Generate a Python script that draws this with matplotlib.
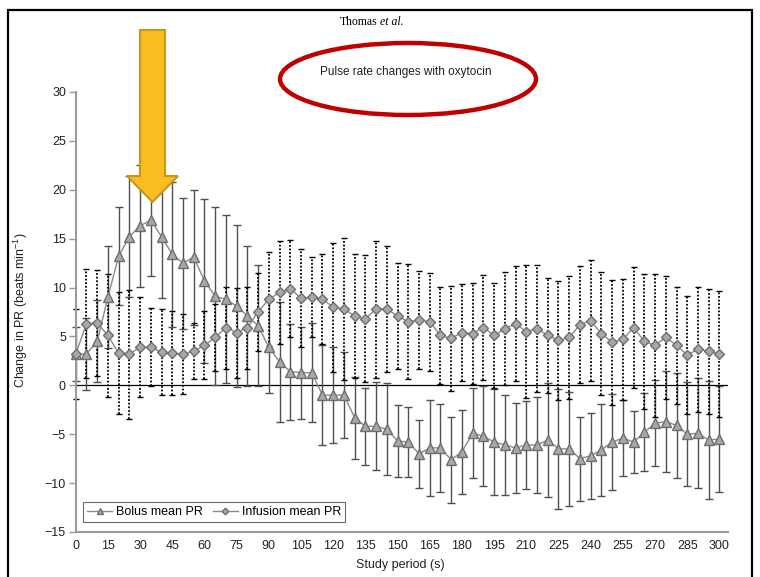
import numpy as np
import matplotlib
matplotlib.use('Agg')
import matplotlib.pyplot as plt
from matplotlib.patches import Ellipse, Polygon, Rectangle

plt.rcParams['font.family'] = ['Liberation Sans', 'DejaVu Sans']
plt.rcParams['mathtext.default'] = 'regular'

# study time points (s)
times = np.arange(0, 305, 5)

bolus_mean = [3.2, 3.2, 4.5, 9.0, 13.2, 15.2, 16.3, 16.9, 15.2, 13.4,
              12.5, 13.1, 10.7, 9.1, 8.8, 8.1, 7.1, 6.1, 3.9, 2.4,
              1.4, 1.3, 1.3, -1.0, -1.0, -1.0, -3.3, -4.2, -4.2, -4.5,
              -5.7, -5.8, -7.0, -6.4, -6.4, -7.6, -6.8, -4.9, -5.2, -5.8,
              -6.1, -6.4, -6.1, -6.1, -5.6, -6.5, -6.5, -7.5, -7.2, -6.6,
              -5.8, -5.4, -5.8, -4.8, -3.9, -3.7, -4.1, -5.0, -4.9, -5.6,
              -5.5]
bolus_err = [2.8, 3.65, 4.2, 5.2, 5.0, 6.2, 6.2, 5.7, 6.3, 7.4,
             6.7, 6.9, 8.4, 9.1, 8.6, 8.3, 7.2, 6.2, 4.7, 6.1,
             4.9, 4.7, 5.1, 5.1, 4.9, 4.4, 4.2, 3.9, 4.5, 4.7,
             3.7, 3.6, 3.5, 4.9, 4.5, 4.4, 4.3, 4.6, 5.1, 5.4,
             5.1, 4.6, 4.5, 4.9, 5.8, 6.1, 5.8, 4.3, 4.4, 4.7,
             4.9, 3.9, 3.2, 4.0, 4.4, 5.2, 5.4, 5.3, 5.6, 6.0,
             5.4]

infusion_mean = [3.2, 6.3, 6.4, 5.1, 3.3, 3.2, 3.9, 3.9, 3.4, 3.3,
                 3.2, 3.5, 4.1, 4.9, 5.9, 5.4, 5.9, 7.5, 8.8, 9.5,
                 9.9, 8.9, 9.0, 8.8, 8.0, 7.8, 7.1, 6.8, 7.8, 7.8,
                 7.1, 6.5, 6.7, 6.5, 5.1, 4.8, 5.4, 5.3, 5.9, 5.1,
                 5.8, 6.3, 5.5, 5.8, 5.1, 4.6, 4.9, 6.2, 6.6, 5.3,
                 4.4, 4.7, 5.9, 4.5, 4.1, 4.9, 4.1, 3.1, 3.7, 3.5,
                 3.2]
infusion_err = [4.6, 5.55, 5.4, 6.3, 6.2, 6.6, 5.1, 4.0, 4.4, 4.3,
                4.1, 2.9, 3.5, 3.4, 4.2, 4.6, 4.2, 4.0, 4.8, 5.3,
                5.0, 5.0, 4.1, 4.6, 6.6, 7.3, 6.3, 6.5, 7.0, 6.4,
                5.4, 5.9, 5.0, 5.0, 5.0, 5.4, 5.0, 5.2, 5.4, 5.4,
                5.8, 5.9, 6.8, 6.5, 5.9, 6.1, 6.3, 6.0, 6.2, 6.3,
                6.4, 6.2, 6.2, 6.9, 7.3, 6.3, 6.0, 6.0, 6.4, 6.4,
                6.4]

W, H = 760, 577
fig = plt.figure(figsize=(W / 100, H / 100), dpi=100)
ax = fig.add_axes([75.7 / W, 45 / H, 652.3 / W, 440 / H])


def fpos(x, y):
    # pixel (from top-left) -> figure fraction
    return (x / W, 1 - y / H)


# error bars
eb_b = ax.errorbar(times, bolus_mean, yerr=bolus_err, fmt='none',
                   ecolor='#505050', elinewidth=1.0, capsize=3, capthick=1.0,
                   zorder=2)
eb_i = ax.errorbar(times, infusion_mean, yerr=infusion_err, fmt='none',
                   ecolor='black', elinewidth=1.3, capsize=2.5, capthick=1.0,
                   zorder=2)
for c in eb_i[2]:
    c.set_linestyle((0, (1.0, 1.0)))
for eb in (eb_b, eb_i):
    for a in list(eb[1]) + list(eb[2]):
        a.set_clip_on(False)

ax.axhline(0, color='black', lw=0.9, zorder=1)

ax.plot(times, bolus_mean, '-^', color='#8a8a8a', mfc='#a8a8a8', mec='#6e6e6e',
        ms=7, lw=1, label='Bolus mean PR', zorder=4, clip_on=False)
ax.plot(times, infusion_mean, '-D', color='#8a8a8a', mfc='#a8a8a8', mec='#6e6e6e',
        ms=4.8, lw=1, label='Infusion mean PR', zorder=4, clip_on=False)

ax.set_xlim(0, 304)
ax.set_ylim(-15, 30)
ax.set_xticks(range(0, 301, 15))
ax.set_yticks(range(-15, 31, 5))
ax.set_yticklabels(['\u221215', '\u221210', '\u22125', '0', '5', '10', '15', '20', '25', '30'])
ax.tick_params(axis='x', length=0, pad=6, labelsize=9, labelcolor='#222222')
ax.tick_params(axis='y', length=5, width=1, color='#9a9a9a', labelsize=9,
               labelcolor='#222222', pad=2)

for s in ('top', 'right'):
    ax.spines[s].set_visible(False)
for s in ('left', 'bottom'):
    ax.spines[s].set_color('#9a9a9a')
    ax.spines[s].set_linewidth(1.5)

ax.set_ylabel('Change in PR (beats min$^{-1}$)', fontsize=9, color='#222222')
ax.yaxis.set_label_coords((30 - 75.7) / 652.3, 0.505)
ax.set_xlabel('Study period (s)', fontsize=9, color='#222222')
ax.xaxis.set_label_coords(0.497, -0.062)

leg = ax.legend(loc='lower left', bbox_to_anchor=(0.011, 0.022), ncol=2,
                fontsize=9, frameon=True, fancybox=False, borderaxespad=0,
                markerscale=0.7, handlelength=2.0, columnspacing=0.8,
                handletextpad=0.3, borderpad=0.35)
leg.get_frame().set_edgecolor('#444444')
leg.get_frame().set_linewidth(0.8)

# page frame
fig.add_artist(Rectangle(fpos(8, 600), 744 / W, 590 / H, transform=fig.transFigure,
                         fill=False, edgecolor='black', lw=1.6))

# header
fig.text(*fpos(377, 22), 'Thomas', family='Liberation Serif', fontsize=8.5,
         ha='right', va='center')
fig.text(*fpos(380, 22), 'et al.', family='Liberation Serif', style='italic',
         fontsize=8.5, ha='left', va='center')

# annotation ellipse
fig.add_artist(Ellipse(fpos(408, 79), 256 / W, 72 / H, transform=fig.transFigure,
                       fill=False, edgecolor='#c00000', lw=3.2))
fig.text(*fpos(406, 72), 'Pulse rate changes with oxytocin', fontsize=8.5,
         ha='center', va='center', color='#222222')

# arrow
arrow_pts = [(140, 30), (165, 30), (165, 176), (178, 176), (152.5, 202),
             (127, 176), (140, 176)]
fig.add_artist(Polygon([fpos(x, y) for x, y in arrow_pts], closed=True,
                       transform=fig.transFigure, facecolor='#f9bd23',
                       edgecolor='#c8961c', lw=1.5, zorder=10))

fig.savefig('out.png', dpi=100)
